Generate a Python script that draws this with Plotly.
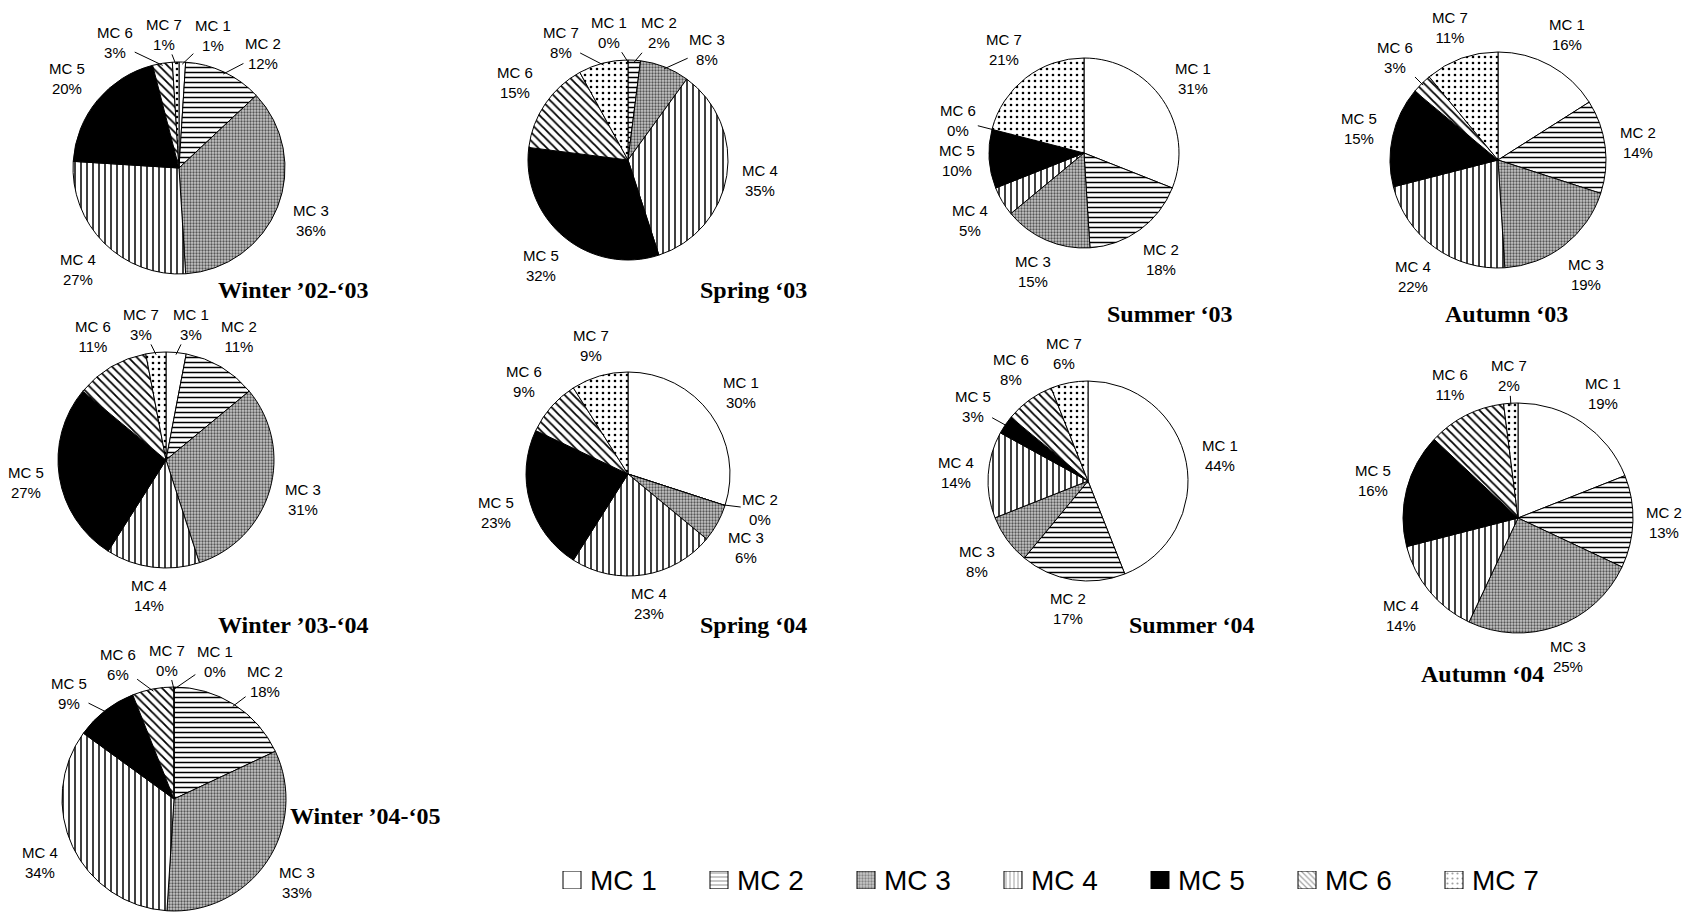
import math
import plotly.graph_objects as go

W, H = 1699, 914

categories = ["MC 1", "MC 2", "MC 3", "MC 4", "MC 5", "MC 6", "MC 7"]

season_names = ["Winter \u201902-\u201803", "Spring \u201803", "Summer \u201803", "Autumn \u201803",
                "Winter \u201903-\u201804", "Spring \u201804", "Summer \u201804", "Autumn \u201804",
                "Winter \u201904-\u201805"]

winter_02_03 = [1, 12, 36, 27, 20, 3, 1]
spring_03 = [0, 2, 8, 35, 32, 15, 8]
summer_03 = [31, 18, 15, 5, 10, 0, 21]
autumn_03 = [16, 14, 19, 22, 15, 3, 11]
winter_03_04 = [3, 11, 31, 14, 27, 11, 3]
spring_04 = [30, 0, 6, 23, 23, 9, 9]
summer_04 = [44, 17, 8, 14, 3, 8, 6]
autumn_04 = [19, 13, 25, 14, 16, 11, 2]
winter_04_05 = [0, 18, 33, 34, 9, 6, 0]

series = [winter_02_03, spring_03, summer_03, autumn_03, winter_03_04,
          spring_04, summer_04, autumn_04, winter_04_05]

# layout: pie centre (px), radius (px), title centre (px)
geom = [
    ((179, 168), 106, (293, 290)),
    ((628, 160), 100, (753, 290)),
    ((1084, 153), 95, (1170, 314)),
    ((1498, 160), 108, (1506, 314)),
    ((166, 460), 108, (293, 625)),
    ((628, 474), 102, (753, 625)),
    ((1088, 481), 100, (1192, 625)),
    ((1518, 518), 115, (1482, 674)),
    ((174, 799), 112, (365, 816)),
]

# styles per category
bgcols = ["white", "white", "#c8c8c8", "white", "black", "white", "white"]
shapes = ["", "-", ".", "|", "", "\\", "."]
sizes = [6, 5, 3, 6, 6, 6, 6]
solid = [0.2, 0.3, 0.45, 0.25, 0.2, 0.3, 0.15]
fgcols = ["black", "black", "#555555", "black", "black", "black", "black"]

LABEL_FONT = dict(family="Liberation Sans, Arial", size=15, color="black")

fig = go.Figure()
annotations = []

LW, LH = 46, 36

for k, (vals, (c, r, tpos)) in enumerate(zip(series, geom)):
    cx, cy = c
    fig.add_trace(go.Pie(
        labels=categories, values=vals, sort=False, direction="clockwise", rotation=0,
        textinfo="none", hoverinfo="label+value",
        marker=dict(colors=bgcols, line=dict(color="black", width=1),
                    pattern=dict(shape=shapes, size=sizes, solidity=solid,
                                 fgcolor=fgcols, bgcolor=bgcols)),
        domain=dict(x=[(cx - r) / W, (cx + r) / W], y=[1 - (cy + r) / H, 1 - (cy - r) / H]),
        showlegend=False,
    ))
    total = float(sum(vals))
    cum = 0.0
    mids = []
    for v in vals:
        mids.append((cum + v / 2.0) / total * 360.0)
        cum += v
    phis = list(mids)

    def pos(phi):
        t = math.radians(phi)
        ux, uy = math.sin(t), -math.cos(t)
        d = r + 8 + 0.5 * (LW * abs(ux) + LH * abs(uy))
        return cx + ux * d, cy + uy * d

    for _ in range(400):
        moved = False
        P = [pos(p) for p in phis]
        for i in range(7):
            for j in range(i + 1, 7):
                if abs(P[i][0] - P[j][0]) < LW + 2 and abs(P[i][1] - P[j][1]) < LH + 1:
                    a, b = (i, j) if phis[i] <= phis[j] else (j, i)
                    if phis[b] - phis[a] > 180:
                        a, b = b, a
                    phis[a] -= 0.5
                    phis[b] += 0.5
                    moved = True
        if not moved:
            break

    for i, v in enumerate(vals):
        lx, ly = pos(phis[i])
        text = f"{categories[i]}<br>{v}%"
        lead = abs(phis[i] - mids[i]) > 4 or v < 4
        if lead:
            t = math.radians(mids[i])
            tx, ty = cx + math.sin(t) * r * 0.98, cy - math.cos(t) * r * 0.98
            annotations.append(dict(
                x=tx / W, y=1 - ty / H, xref="paper", yref="paper",
                ax=lx - tx, ay=ly - ty, axref="pixel", ayref="pixel",
                text=text, showarrow=True, arrowhead=0, arrowwidth=1, arrowcolor="black",
                standoff=0, startstandoff=0, font=LABEL_FONT))
        else:
            annotations.append(dict(
                x=lx / W, y=1 - ly / H, xref="paper", yref="paper", showarrow=False,
                text=text, xanchor="center", yanchor="middle", font=LABEL_FONT))
    annotations.append(dict(
        x=tpos[0] / W, y=1 - tpos[1] / H, xref="paper", yref="paper", showarrow=False,
        text=f"<b>{season_names[k]}</b>", xanchor="center", yanchor="middle",
        font=dict(family="Liberation Serif, Times New Roman", size=24, color="black")))

# legend drawn as patterned swatches on a hidden axis strip
leg_x0, leg_step, sw = 572, 147, 18
leg_cy = 880
fig.add_trace(go.Bar(
    x=list(range(len(categories))), y=[1] * len(categories), width=sw / leg_step,
    marker=dict(color=bgcols, line=dict(color="black", width=1),
                pattern=dict(shape=shapes, size=[4, 4, 3, 4, 4, 4, 5], solidity=solid,
                             fgcolor=fgcols, bgcolor=bgcols)),
    showlegend=False, hoverinfo="skip", xaxis="x", yaxis="y",
))
for i, name in enumerate(categories):
    annotations.append(dict(
        x=i, y=0.5, xref="x", yref="y", xshift=sw / 2 + 7, showarrow=False,
        text=name, xanchor="left", yanchor="middle",
        font=dict(family="Liberation Sans, Arial", size=28, color="black")))

fig.update_layout(
    width=W, height=H, margin=dict(l=0, r=0, t=0, b=0), autosize=False,
    paper_bgcolor="white", plot_bgcolor="white",
    annotations=annotations, showlegend=False,
    xaxis=dict(domain=[0, 1], range=[(0 - leg_x0) / leg_step, (W - leg_x0) / leg_step],
               visible=False, fixedrange=True),
    yaxis=dict(domain=[1 - (leg_cy + sw / 2) / H, 1 - (leg_cy - sw / 2) / H], range=[0, 1],
               visible=False, fixedrange=True),
)

fig.write_html("out.html", config={"displayModeBar": False},
               post_script="document.body.style.margin='0';")
